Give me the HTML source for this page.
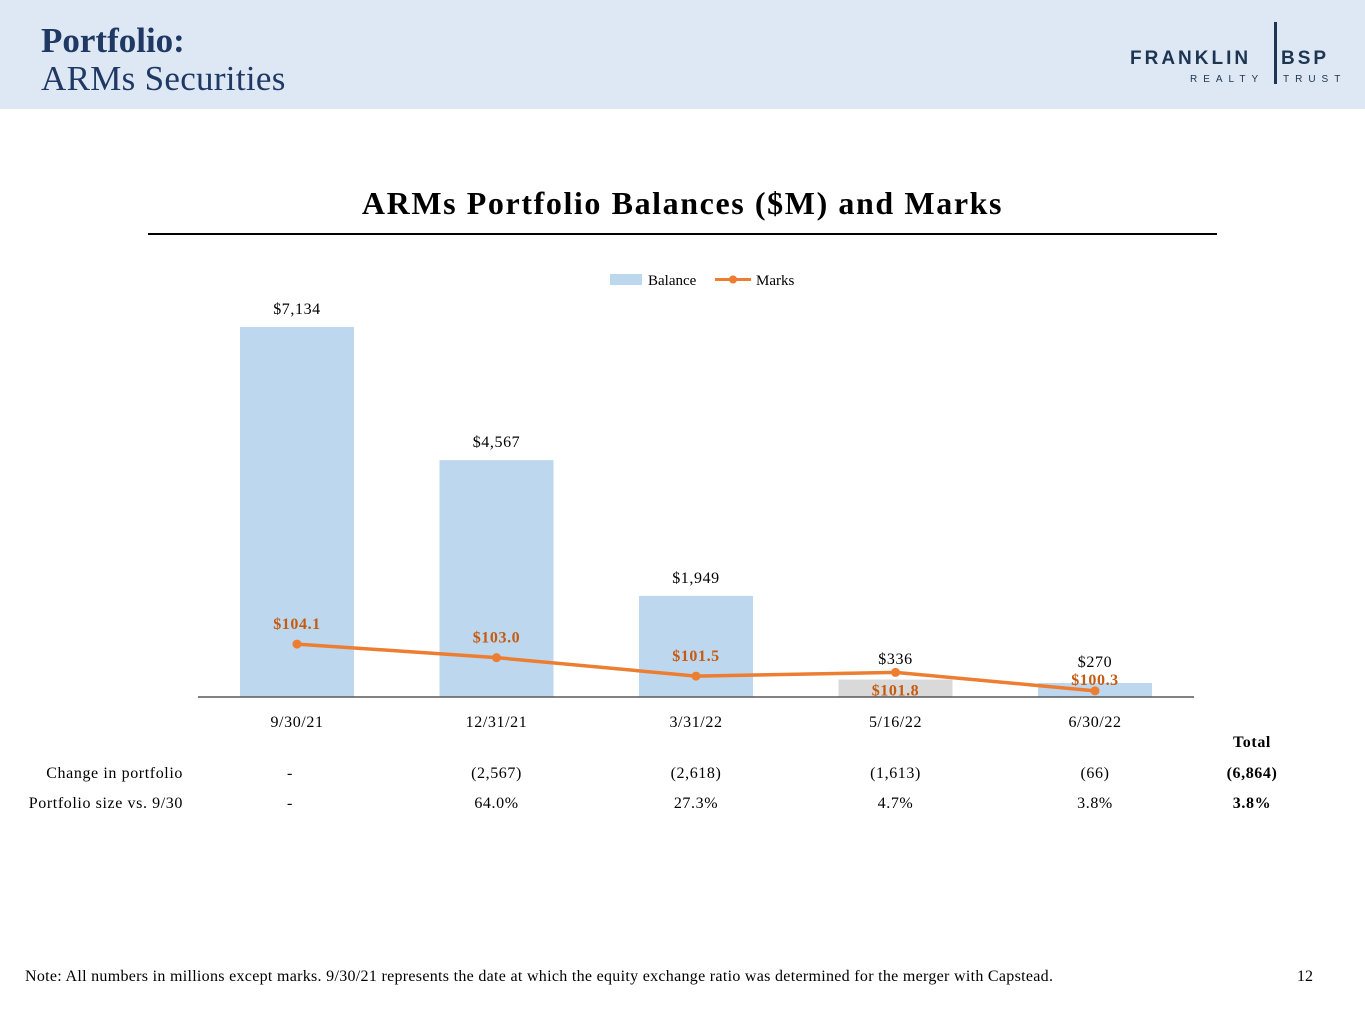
<!DOCTYPE html>
<html><head><meta charset="utf-8"><style>
body{margin:0;width:1365px;height:1024px;background:#fff;font-family:"Liberation Serif",serif;position:relative;overflow:hidden}
.hdr{position:absolute;left:0;top:0;width:1365px;height:109px;background:#dde8f4}
.t1{position:absolute;left:41px;top:21px;font-size:35px;font-weight:bold;color:#1f3864}
.t2{position:absolute;left:41px;top:59px;font-size:35px;color:#1f3864;letter-spacing:0.3px}
.abs{position:absolute}
</style></head><body>
<div class="hdr"></div>
<div class="t1">Portfolio:</div>
<div class="t2">ARMs Securities</div>
<div class="abs" style="left:1128px;top:18px;width:225px;height:70px;color:#1d3550;font-family:'Liberation Sans',sans-serif">
 <div style="position:absolute;left:2px;top:30px;font-size:19px;letter-spacing:3px;font-weight:bold">FRANKLIN</div>
 <div style="position:absolute;left:153px;top:30px;font-size:19px;letter-spacing:3px;font-weight:bold">BSP</div>
 <div style="position:absolute;left:146px;top:4px;width:3px;height:62px;background:#1d3550"></div>
 <div style="position:absolute;left:62px;top:56px;font-size:10px;letter-spacing:6px">REALTY</div>
 <div style="position:absolute;left:155px;top:56px;font-size:10px;letter-spacing:6px">TRUST</div>
</div>
<div class="abs" style="left:0;width:1365px;top:185px;text-align:center;font-size:32px;letter-spacing:1.6px;font-weight:bold">ARMs Portfolio Balances ($M) and Marks</div>
<div class="abs" style="left:148px;top:233px;width:1069px;height:2px;background:#000"></div>
<svg id="chart" class="abs" style="left:0;top:0" width="1365" height="1024"></svg>
<div class="abs" style="left:25px;top:968px;font-size:16px;letter-spacing:0.3px">Note: All numbers in millions except marks. 9/30/21 represents the date at which the equity exchange ratio was determined for the merger with Capstead.</div>
<div class="abs" style="left:1297px;top:968px;font-size:16px">12</div>
<script>
const categories=["9/30/21","12/31/21","3/31/22","5/16/22","6/30/22"];
const balances=[7134,4567,1949,336,270];
const balanceLabels=["$7,134","$4,567","$1,949","$336","$270"];
const marks=[104.1,103.0,101.5,101.8,100.3];
const changes=["-","(2,567)","(2,618)","(1,613)","(66)"];
const sizes=["-","64.0%","27.3%","4.7%","3.8%"];
const totalChange="(6,864)", totalSize="3.8%";
const svg=document.getElementById('chart');
const NS="http://www.w3.org/2000/svg";
const base=697;
const x=i=>297+i*199.5;
const yB=v=>base-v*370/7134;
const yM=v=>base-(v-99.8)*12.3;
function el(t,a,txt){const e=document.createElementNS(NS,t);for(const k in a)e.setAttribute(k,a[k]);if(txt!=null)e.textContent=txt;svg.appendChild(e);return e;}
const F='Liberation Serif, serif';
const LS='0.6';
categories.forEach((c,i)=>{
 const b=el('rect',{x:x(i)-57,y:yB(balances[i]),width:114,height:base-yB(balances[i]),fill:i==3?'#d9d9d9':'#bdd7ee'});
 
 
 const t=el('text',{x:x(i),y:Math.min(yB(balances[i])-13,664+(i==4?3:0)),'text-anchor':'middle','font-size':16,'letter-spacing':LS,'font-family':F},balanceLabels[i]);
 
 
 const xl=el('text',{x:x(i),y:base+30,'text-anchor':'middle','font-size':16,'letter-spacing':LS,'font-family':F},c);
 
 
 const r1=el('text',{x:x(i)+(i==0?-7:0),y:778,'text-anchor':'middle','font-size':16,'letter-spacing':LS,'font-family':F},changes[i]);
 
 
 const r2=el('text',{x:x(i)+(i==0?-7:0),y:808,'text-anchor':'middle','font-size':16,'letter-spacing':LS,'font-family':F},sizes[i]);
 
 
});
const ax=el('line',{x1:198,x2:1194,y1:base,y2:base,stroke:'#595959','stroke-width':1.5});


const ln=el('polyline',{points:marks.map((m,i)=>x(i)+','+yM(m)).join(' '),fill:'none',stroke:'#ed7d31','stroke-width':3.5});


marks.forEach((m,i)=>{
 const p=el('circle',{cx:x(i),cy:yM(m),r:4.5,fill:'#ed7d31'});
 
 
 const dy=i==3?23:(i==4?-6:-15);
 const l=el('text',{x:x(i),y:yM(m)+dy,'text-anchor':'middle','font-size':16,'letter-spacing':LS,'font-weight':'bold',fill:'#c55a11','font-family':F},'$'+m.toFixed(1));
 
 
});
const lg1=el('rect',{x:610,y:274,width:32,height:11,fill:'#bdd7ee'});


const lt1=el('text',{x:648,y:285,'font-size':15,'font-family':F},'Balance');


const lg2=el('line',{x1:715,x2:751,y1:279.5,y2:279.5,stroke:'#ed7d31','stroke-width':3});


el('circle',{cx:733,cy:279.5,r:4,fill:'#ed7d31'});
const lt2=el('text',{x:756,y:285,'font-size':15,'font-family':F},'Marks');


[['Change in portfolio',778],['Portfolio size vs. 9/30',808]].forEach(([t,y])=>{
 const e=el('text',{x:183,y:y,'text-anchor':'end','font-size':16,'letter-spacing':LS,'font-family':F},t);
 
 
});
[['Total',747],[totalChange,778],[totalSize,808]].forEach(([t,y])=>{
 const e=el('text',{x:1252,y:y,'text-anchor':'middle','font-size':16,'letter-spacing':LS,'font-weight':'bold','font-family':F},t);
 
 
});
</script>
</body></html>
